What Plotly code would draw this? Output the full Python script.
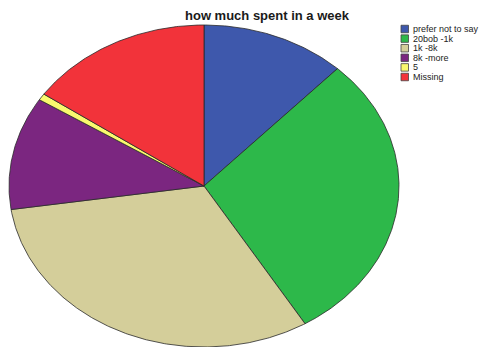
import numpy as np
import plotly.graph_objects as go

# Weekly spending categories and their respondent counts
categories = ["prefer not to say", "20bob -1k", "1k -8k", "8k -more", "5", "Missing"]
counts = [18, 44, 47, 17, 1, 23]
colors = ["#3E58AC", "#2DB84A", "#D4CE9A", "#7B2680", "#FAF96E", "#F2333A"]
title_text = "how much spent in a week"

W, H = 482, 347
# Elliptical pie geometry (pixel space)
cx, cy, rx, ry = 204, 186, 195, 161

fig = go.Figure()

total = float(sum(counts))
start = 0.0
for name, val, col in zip(categories, counts, colors):
    sweep = 360.0 * val / total
    n = max(int(sweep * 2), 4)
    th = np.radians(np.linspace(start, start + sweep, n))
    xs = np.concatenate([[cx], cx + rx * np.sin(th), [cx]])
    ys = np.concatenate([[cy], cy - ry * np.cos(th), [cy]])
    fig.add_trace(go.Scatter(
        x=xs, y=ys, mode="lines", fill="toself", fillcolor=col,
        line=dict(color="#2a2a2a", width=0.8), name=name,
        hoverinfo="name", showlegend=False,
    ))
    start += sweep

# Legend: swatches with labels
leg_x0, leg_y0, leg_dy, sw = 401, 29, 9.6, 7.5
shapes = []
annotations = []
for i, (name, col) in enumerate(zip(categories, colors)):
    yc = leg_y0 + i * leg_dy
    shapes.append(dict(type="rect", xref="x", yref="y",
                       x0=leg_x0, x1=leg_x0 + sw, y0=yc - sw / 2, y1=yc + sw / 2,
                       fillcolor=col, line=dict(color="#444444", width=0.8)))
    annotations.append(dict(x=leg_x0 + sw + 2.5, y=yc, xref="x", yref="y",
                            text=name, showarrow=False, xanchor="left", yanchor="middle",
                            font=dict(family="Liberation Sans, Arial", size=9, color="#222222")))

annotations.append(dict(x=267, y=15, xref="x", yref="y", text="<b>%s</b>" % title_text,
                        showarrow=False, xanchor="center", yanchor="middle",
                        font=dict(family="Liberation Sans, Arial", size=13, color="#1a1a1a")))

fig.update_layout(
    width=W, height=H,
    margin=dict(l=0, r=0, t=0, b=0),
    paper_bgcolor="white", plot_bgcolor="white",
    xaxis=dict(range=[0, W], visible=False, fixedrange=True),
    yaxis=dict(range=[H, 0], visible=False, fixedrange=True),
    shapes=shapes, annotations=annotations,
    showlegend=False,
)

fig.write_html("out.html")
